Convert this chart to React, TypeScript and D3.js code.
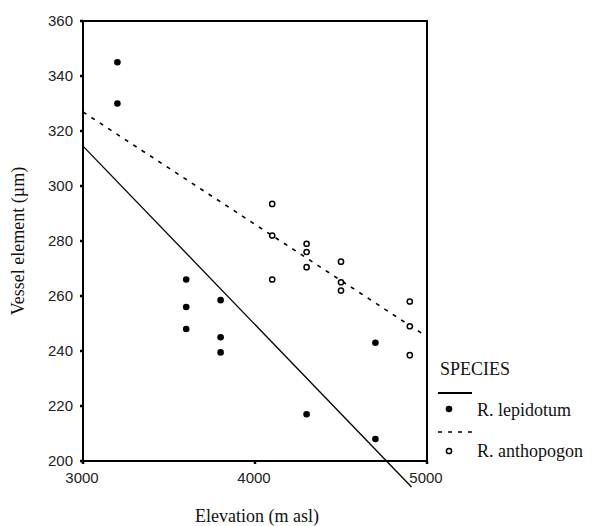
import React from "react";
import * as d3 from "d3";

const lepElevation = [3200, 3200, 3600, 3600, 3600, 3800, 3800, 3800, 4300, 4700, 4700];
const lepVessel = [345, 330, 266, 256, 248, 258.5, 245, 239.5, 217, 243, 208];
const anthElevation = [4100, 4100, 4100, 4300, 4300, 4300, 4500, 4500, 4500, 4900, 4900, 4900];
const anthVessel = [293.5, 282, 266, 279, 276, 270.5, 272.5, 265, 262, 258, 249, 238.5];
const xTicks = [3000, 4000, 5000];
const yTicks = [200, 220, 240, 260, 280, 300, 320, 340, 360];
const lepFitRange = [3000, 4910];
const anthFitRange = [3000, 5000];
const legendTitle = "SPECIES";
const speciesNames = ["R. lepidotum", "R. anthopogon"];

function fit(xs: number[], ys: number[]) {
  const mx = d3.mean(xs)!;
  const my = d3.mean(ys)!;
  let sxy = 0, sxx = 0;
  xs.forEach((x, i) => {
    sxy += (x - mx) * (ys[i] - my);
    sxx += (x - mx) * (x - mx);
  });
  const b = sxy / sxx;
  return (x: number) => my + b * (x - mx);
}

export default function App() {
  const W = 592, H = 526;
  const x = d3.scaleLinear().domain([3000, 5000]).range([83, 427]);
  const y = d3.scaleLinear().domain([200, 360]).range([461, 21]);
  const line = d3.line<number[]>().x(d => x(d[0])).y(d => y(d[1]));
  const lf = fit(lepElevation, lepVessel);
  const af = fit(anthElevation, anthVessel);
  const lepLine = line(lepFitRange.map(v => [v, lf(v)]))!;
  const anthLine = line(anthFitRange.map(v => [v, af(v)]))!;
  const serif = "'Liberation Serif', 'Times New Roman', serif";
  const sans = "'Liberation Sans', Arial, sans-serif";
  const [x0, x1] = x.range();
  const [y0, y1] = y.range();
  return (
    <svg width={W} height={H} style={{ position: "absolute", left: 0, top: 0, background: "#fff" }}>
      <rect x={0} y={0} width={W} height={H} fill="#fff" />
      {/* regression lines */}
      <path d={lepLine} stroke="#000" strokeWidth={1.3} fill="none" />
      <path d={anthLine} stroke="#000" strokeWidth={1.6} fill="none" strokeDasharray="4,6" />
      {/* frame */}
      <path d={`M${x0},${y1}H${x1}V${y0}H${x0}Z`} stroke="#000" strokeWidth={2} fill="none" />
      {/* y ticks */}
      {yTicks.map(t => (
        <g key={"y" + t}>
          <line x1={x0 - 3} x2={x0} y1={y(t)} y2={y(t)} stroke="#000" strokeWidth={2.5} />
          <text x={73} y={y(t)} dy="0.36em" textAnchor="end" fontFamily={sans} fontSize={15} fill="#222">{t}</text>
        </g>
      ))}
      {xTicks.map(t => (
        <g key={"x" + t}>
          <line x1={x(t)} x2={x(t)} y1={y0} y2={y0 + 3} stroke="#000" strokeWidth={2.5} />
          <text x={x(t) - 1} y={483} textAnchor="middle" fontFamily={sans} fontSize={15} fill="#222">{t}</text>
        </g>
      ))}
      {/* points */}
      {lepElevation.map((e, i) => (
        <circle key={"l" + i} cx={x(e)} cy={y(lepVessel[i])} r={3.3} fill="#000" />
      ))}
      {anthElevation.map((e, i) => (
        <circle key={"a" + i} cx={x(e)} cy={y(anthVessel[i])} r={2.6} fill="#fff" stroke="#000" strokeWidth={1.5} />
      ))}
      {/* axis titles */}
      <text x={257} y={522} textAnchor="middle" fontFamily={serif} fontSize={18} fill="#111">Elevation (m asl)</text>
      <text transform="translate(24,241) rotate(-90)" textAnchor="middle" fontFamily={serif} fontSize={18} fill="#111">Vessel element (µm)</text>
      {/* legend */}
      <text x={440} y={375} fontFamily={serif} fontSize={18} fill="#111">{legendTitle}</text>
      <line x1={438} x2={472} y1={393} y2={393} stroke="#000" strokeWidth={2} />
      <circle cx={449} cy={409} r={3.3} fill="#000" />
      <text x={477} y={416} fontFamily={serif} fontSize={18} fill="#111">{speciesNames[0]}</text>
      <line x1={438} x2={474} y1={432} y2={432} stroke="#000" strokeWidth={1.6} strokeDasharray="4,6" />
      <circle cx={449} cy={451} r={2.6} fill="#fff" stroke="#000" strokeWidth={1.5} />
      <text x={477} y={457} fontFamily={serif} fontSize={18} fill="#111">{speciesNames[1]}</text>
    </svg>
  );
}
